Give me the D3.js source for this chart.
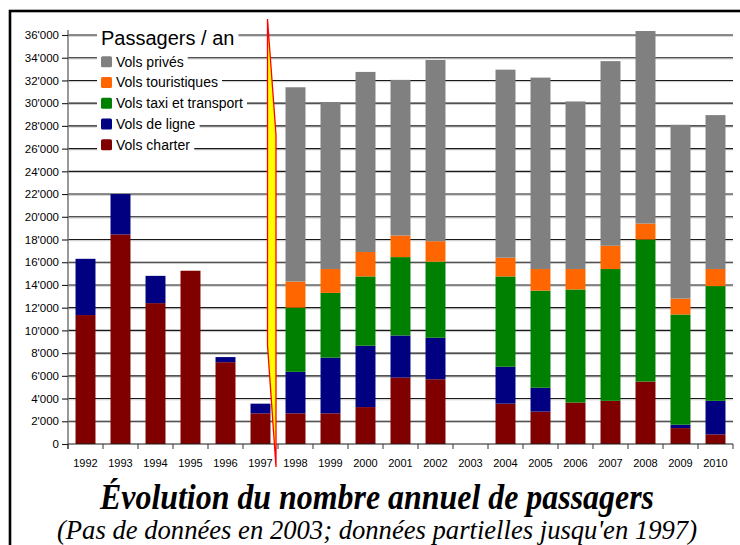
<!DOCTYPE html>
<html>
<head>
<meta charset="utf-8">
<script src="https://cdn.jsdelivr.net/npm/d3@7"></script>
<style>
  body { margin: 0; background: #fff; }
  svg { display: block; }
</style>
</head>
<body>
<div class="chart"></div>
<script>
//Width and height
var w = 740;
var h = 545;

//Data
var years = ["1992", "1993", "1994", "1995", "1996", "1997", "1998", "1999", "2000", "2001",
             "2002", "2003", "2004", "2005", "2006", "2007", "2008", "2009", "2010"];
var charter = [11350, 18450, 12400, 15250, 7200, 2700, 2700, 2700, 3250, 5850,
               5700, 0, 3550, 2850, 3650, 3800, 5500, 1400, 850];
var ligne = [4950, 3550, 2400, 0, 450, 850, 3650, 4900, 5400, 3700,
             3650, 0, 3250, 2100, 0, 0, 0, 300, 2950];
var taxi = [0, 0, 0, 0, 0, 0, 5650, 5700, 6100, 6900,
            6700, 0, 7950, 8550, 9950, 11600, 12500, 9700, 10100];
var touristiques = [0, 0, 0, 0, 0, 0, 2300, 2100, 2150, 1900,
                    1800, 0, 1650, 1900, 1800, 2050, 1400, 1400, 1500];
var prives = [0, 0, 0, 0, 0, 0, 17100, 14700, 15850, 13700,
              15950, 0, 16550, 16850, 14750, 16250, 16950, 15300, 13550];

//Series, bottom to top of each stack
var seriesKeys = ["charter", "ligne", "taxi", "touristiques", "prives"];
var seriesNames = {
  charter: "Vols charter",
  ligne: "Vols de ligne",
  taxi: "Vols taxi et transport",
  touristiques: "Vols touristiques",
  prives: "Vols privés"
};
var seriesColors = {
  charter: "#800000",
  ligne: "#000080",
  taxi: "#008000",
  touristiques: "#ff6600",
  prives: "#808080"
};
var yTicks = d3.range(0, 36001, 2000);

//Build table for d3.stack
var table = years.map(function(y, i) {
  return { year: y, charter: charter[i], ligne: ligne[i], taxi: taxi[i],
           touristiques: touristiques[i], prives: prives[i] };
});
var stacked = d3.stack().keys(seriesKeys)(table);

//Scales
var x = d3.scaleBand().domain(years).range([68, 733]).padding(0);
var y = d3.scaleLinear().domain([0, 36000]).range([444, 35]);
var barW = x.bandwidth() * 0.57;

var fmt = d3.formatLocale({ decimal: ".", thousands: "'", grouping: [3], currency: ["", ""] }).format(",d");

var sans = "'Liberation Sans', Arial, sans-serif";
var serif = "'Liberation Serif', 'Times New Roman', Times, serif";

//Create SVG element
var svg = d3.select(".chart")
            .append("svg")
            .attr("width", w)
            .attr("height", h)
            .style("font-family", sans);

//Gridlines (with faint shadow)
var grid = svg.append("g");
grid.selectAll("line.shadow")
  .data(yTicks.filter(function(d) { return d > 0; }))
  .enter().append("line")
  .attr("class", "shadow")
  .attr("x1", x.range()[0]).attr("x2", x.range()[1])
  .attr("y1", function(d) { return y(d) + 1.2; })
  .attr("y2", function(d) { return y(d) + 1.2; })
  .style("stroke", "#c8c8c8").style("stroke-width", 1);
grid.selectAll("line.major")
  .data(yTicks.filter(function(d) { return d > 0; }))
  .enter().append("line")
  .attr("class", "major")
  .attr("x1", x.range()[0]).attr("x2", x.range()[1])
  .attr("y1", function(d) { return y(d); })
  .attr("y2", function(d) { return y(d); })
  .style("stroke", "#1a1a1a").style("stroke-width", 1.1);

//Bars
svg.append("g")
  .selectAll("g")
  .data(stacked)
  .enter().append("g")
  .style("fill", function(d) { return seriesColors[d.key]; })
  .selectAll("rect")
  .data(function(d) { return d; })
  .enter().append("rect")
  .attr("x", function(d) { return x(d.data.year) + (x.bandwidth() - barW) / 2; })
  .attr("width", barW)
  .attr("y", function(d) { return y(d[1]); })
  .attr("height", function(d) { return Math.max(0, y(d[0]) - y(d[1])); });

//Y axis
var yAxis = d3.axisLeft(y).tickValues(yTicks).tickFormat(fmt).tickSize(6).tickPadding(3);
var gy = svg.append("g").attr("transform", "translate(68,0)").call(yAxis);
gy.attr("font-family", null);
gy.select(".domain").attr("d", "M0,30V449").style("stroke", "#777").style("stroke-width", 1.5);
gy.selectAll(".tick line").style("stroke", "#1a1a1a").style("stroke-width", 1.1);
gy.selectAll(".tick text").style("font-size", "11.5px").style("fill", "#000")
  .style("font-family", sans);

//X axis: line, boundary ticks and centred labels
var gx = svg.append("g");
gx.append("line")
  .attr("x1", x.range()[0]).attr("x2", x.range()[1])
  .attr("y1", y(0)).attr("y2", y(0))
  .style("stroke", "#1a1a1a").style("stroke-width", 1.2);
gx.selectAll("line.tk")
  .data(years.concat(["end"]))
  .enter().append("line")
  .attr("class", "tk")
  .attr("x1", function(d, i) { return x.range()[0] + i * x.step(); })
  .attr("x2", function(d, i) { return x.range()[0] + i * x.step(); })
  .attr("y1", y(0)).attr("y2", y(0) + 5)
  .style("stroke", "#333").style("stroke-width", 1);
gx.selectAll("text")
  .data(years)
  .enter().append("text")
  .attr("x", function(d) { return x(d) + x.bandwidth() / 2; })
  .attr("y", 467)
  .attr("text-anchor", "middle")
  .style("font-size", "11px")
  .text(function(d) { return d; });

//Lightning mark between partial and full data
var bx = x("1998");
var bolt = [[bx - 10.5, y(0) - 425], [bx - 2, y(0) - 309], [bx - 2, y(0) + 23], [bx - 10.5, y(0) - 99]];
svg.append("path")
  .attr("d", d3.line()(bolt) + "Z")
  .style("fill", "#ffff00")
  .style("stroke", "#ff0000")
  .style("stroke-width", 1.3)
  .style("stroke-linejoin", "miter");

//Legend
var legend = svg.append("g");
var legendBg = legend.append("g");
var legendFg = legend.append("g");
var lt = legendFg.append("text")
  .attr("x", 101).attr("y", 45)
  .style("font-size", "20px")
  .text("Passagers / an");
var legendOrder = ["prives", "touristiques", "taxi", "ligne", "charter"];
var items = legendFg.selectAll("g.item")
  .data(legendOrder)
  .enter().append("g")
  .attr("class", "item")
  .attr("transform", function(d, i) { return "translate(0," + (61.7 + i * 20.75) + ")"; });
items.append("rect")
  .attr("x", 101).attr("y", -5.5).attr("width", 11).attr("height", 11)
  .attr("rx", 1.5)
  .style("fill", function(d) { return seriesColors[d]; });
items.append("text")
  .attr("x", 116).attr("y", 5)
  .style("font-size", "14px")
  .text(function(d) { return seriesNames[d]; });

//White backing behind each legend line, cutting the gridlines
var lines = [lt.node()].concat(items.select("text").nodes());
lines.forEach(function(n, i) {
  var bb = n.getBBox();
  var off = i === 0 ? 0 : 61.7 + (i - 1) * 20.75;
  legendBg.append("rect")
    .attr("x", 97)
    .attr("y", bb.y + off)
    .attr("width", bb.x + bb.width - 97 + 4)
    .attr("height", bb.height)
    .style("fill", "#fff");
});

//Titles
svg.append("text")
  .attr("x", 377).attr("y", 509)
  .attr("text-anchor", "middle")
  .attr("textLength", 554).attr("lengthAdjust", "spacingAndGlyphs")
  .style("font-family", serif)
  .style("font-weight", "bold").style("font-style", "italic")
  .style("font-size", "35px")
  .text("Évolution du nombre annuel de passagers");
svg.append("text")
  .attr("x", 377).attr("y", 539)
  .attr("text-anchor", "middle")
  .attr("textLength", 640).attr("lengthAdjust", "spacingAndGlyphs")
  .style("font-family", serif)
  .style("font-style", "italic")
  .style("font-size", "27px")
  .text("(Pas de données en 2003; données partielles jusqu'en 1997)");

//Frame
svg.append("rect")
  .attr("x", 10).attr("y", 11)
  .attr("width", 800).attr("height", 600)
  .style("fill", "none")
  .style("stroke", "#000")
  .style("stroke-width", 2.6);
</script>
</body>
</html>
